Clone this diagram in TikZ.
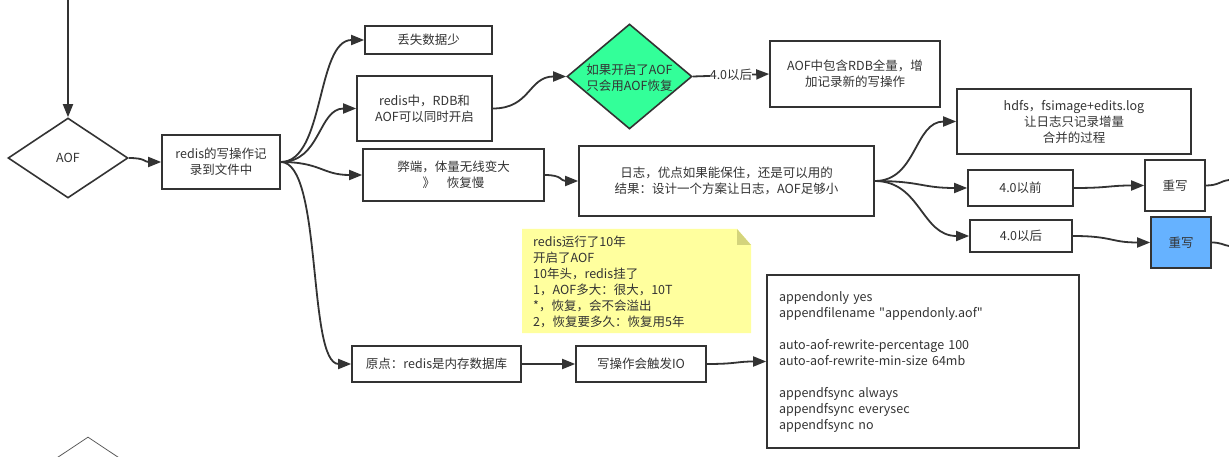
\documentclass[tikz,border=0pt]{standalone}
\usepackage{fontspec}
\setmainfont{Noto Sans CJK SC}
\usetikzlibrary{shapes.geometric,arrows.meta}
\definecolor{edgec}{HTML}{333333}
\definecolor{txtc}{HTML}{333333}
\definecolor{mint}{HTML}{33FF99}
\definecolor{skyb}{HTML}{66B2FF}
\definecolor{noteyel}{HTML}{FFFF9E}
\definecolor{notefold}{HTML}{D4D47C}
\newcommand\dgfont{\fontsize{12.5}{16}\selectfont}
\tikzset{
  box/.style={draw=edgec, line width=1.6pt, fill=white, align=center, inner sep=0pt, text=txtc, font=\dgfont},
  txt/.style={align=center, inner sep=0pt, text=txtc, font=\dgfont},
  dia/.style={shape=diamond, draw=edgec, line width=1.6pt, fill=white, inner sep=0pt, text=txtc, font=\dgfont},
  arr/.style={draw=edgec, line width=1.8pt, -{Triangle[length=13pt,width=10pt]}},
  plain/.style={draw=edgec, line width=1.8pt},
}
\begin{document}
\begin{tikzpicture}[x=1pt,y=-1pt]
\useasboundingbox (0,0) rectangle (1229,457);
\clip (0,0) rectangle (1229,457);
\fill[white] (0,0) rectangle (1229,457);

% nodes
\coordinate (top) at (68,0);
\node[dia, minimum width=120pt, minimum height=80pt] (aof) at (68,158) {AOF};
\node[box, minimum width=118pt, minimum height=54pt] (w1) at (221,162) {redis的写操作记\\录到文件中};
\node[box, minimum width=127pt, minimum height=28pt] (lose) at (428.5,40) {丢失数据少};
\node[box, minimum width=135pt, minimum height=65pt] (both) at (424.5,108.5) {redis中，RDB和\\AOF可以同时开启};
\node[box, minimum width=181pt, minimum height=52pt] (cons) at (453.5,175) {弊端，体量无线变大\\》\hspace{12pt}恢复慢};
\node[dia, fill=mint, minimum width=125pt, minimum height=105pt] (gd) at (629.5,76.5) {};
\node[txt] (gdt) at (629.5,77.5) {如果开启了AOF\\只会用AOF恢复};
\node[box, minimum width=170pt, minimum height=66pt] (full) at (855,74) {AOF中包含RDB全量，增\\加记录新的写操作};
\node[box, minimum width=295pt, minimum height=70pt] (log) at (726.5,181) {日志，优点如果能保住，还是可以用的\\结果：设计一个方案让日志，AOF足够小};
\node[box, minimum width=234pt, minimum height=65pt] (hdfs) at (1074,121.5) {hdfs，fsimage+edits.log\\让日志只记录增量\\合并的过程};
\node[box, minimum width=105pt, minimum height=36pt] (before) at (1020.5,188) {4.0以前};
\node[box, minimum width=60pt, minimum height=51pt] (rw1) at (1175,185.5) {重写};
\node[box, minimum width=102pt, minimum height=32pt] (after) at (1021,236) {4.0以后};
\node[box, fill=skyb, minimum width=60pt, minimum height=51pt] (rw2) at (1181,242.5) {重写};
\coordinate (out1) at (1229,180);
\coordinate (out2) at (1229,246);

% note
\fill[noteyel] (522,229) -- (737,229) -- (751,245) -- (751,333) -- (522,333) -- cycle;
\fill[notefold] (737,229) -- (751,245) -- (737,245) -- cycle;
\node[txt, align=left, anchor=west] (notet) at (533,281.5) {redis运行了10年\\开启了AOF\\10年头，redis挂了\\1，AOF多大：很大，10T\\*，恢复，会不会溢出\\2，恢复要多久：恢复用5年};

\node[box, minimum width=169pt, minimum height=36pt] (origin) at (436.5,364) {原点：redis是内存数据库};
\node[box, minimum width=130pt, minimum height=36pt] (io) at (641,364) {写操作会触发IO};
\node[box, align=left, text width=288pt, inner xsep=12pt, minimum height=173pt] (conf) at (923,361.5) {appendonly yes\\
appendfilename \textquotedbl appendonly.aof\textquotedbl\\[16pt]
auto-aof-rewrite-percentage 100\\
auto-aof-rewrite-min-size 64mb\\[16pt]
appendfsync always\\
appendfsync everysec\\
appendfsync no};

\node[dia, draw=edgec!80, line width=0.8pt, minimum width=120pt, minimum height=80pt] (aof2) at (88,477) {};

% connectors
\draw[arr] (top) -- (aof.north);
\draw[arr] (aof.east) .. controls +(17,0) and +(-17,0) .. (w1.west);
\draw[arr] (w1.east) .. controls +(44,0) and +(-48,0) .. (lose.west);
\draw[arr] (w1.east) .. controls +(40,0) and +(-38,0) .. (both.west);
\draw[arr] (w1.east) .. controls +(40,0) and +(-40,0) .. (cons.west);
\draw[arr] (w1.east) .. controls +(42,0) and +(-44,0) .. (origin.west);
\draw[arr] (both.east) .. controls +(38,0) and +(-38,0) .. (gd.west);
\draw[arr] (gd.east) -- node[fill=white, inner sep=1pt, txt] {4.0以后} (full.west);
\draw[arr] (cons.east) .. controls +(18,0) and +(-18,0) .. (log.west);
\draw[arr] (log.east) .. controls +(42,0) and +(-42,0) .. (hdfs.west);
\draw[arr] (log.east) .. controls +(46,0) and +(-46,0) .. (before.west);
\draw[arr] (log.east) .. controls +(46,0) and +(-48,0) .. (after.west);
\draw[arr] (before.east) .. controls +(36,0) and +(-36,0) .. (rw1.west);
\draw[arr] (after.east) .. controls +(40,0) and +(-40,0) .. (rw2.west);
\draw[plain] (rw1.east) .. controls +(13,0) and +(-9,1) .. (out1);
\draw[plain] (rw2.east) .. controls +(9,0) and +(-6,-1) .. (out2);
\draw[arr] (origin.east) -- (io.west);
\draw[arr] (io.east) .. controls +(30,0) and +(-30,0) .. (conf.west);
\end{tikzpicture}
\end{document}
